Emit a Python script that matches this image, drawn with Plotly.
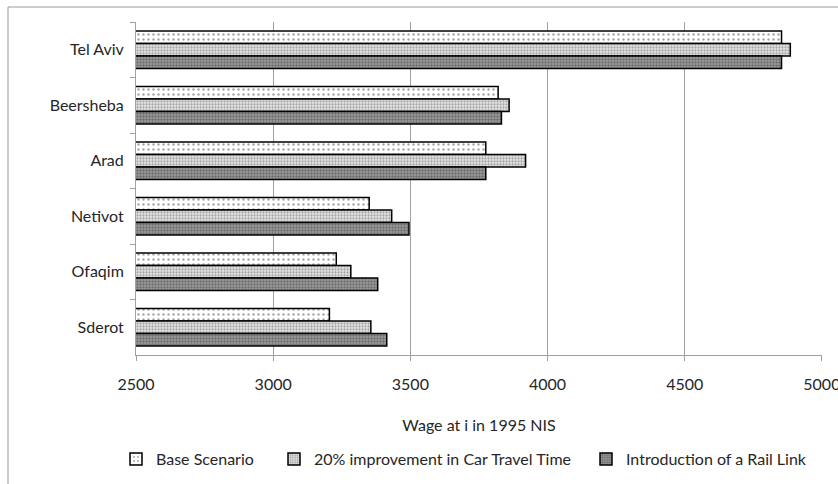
import plotly.graph_objects as go

cities = ["Tel Aviv", "Beersheba", "Arad", "Netivot", "Ofaqim", "Sderot"]
base_scenario = [4853, 3820, 3775, 3350, 3230, 3205]
car_improvement = [4885, 3860, 3920, 3432, 3283, 3356]
rail_link = [4853, 3832, 3775, 3495, 3381, 3414]
series_names = ["Base Scenario", "20% improvement in Car Travel Time", "Introduction of a Rail Link"]
x_ticks = [2500, 3000, 3500, 4000, 4500, 5000]

FONT = "Lato"
TXT = "#262626"
GRID = "#a0a0a0"

patterns = [
    dict(shape=".", bgcolor="#ffffff", fgcolor="#4a4a4a", size=5, solidity=0.18),
    dict(shape=".", bgcolor="#e6e6e6", fgcolor="#666666", size=3, solidity=0.45),
    dict(shape=".", bgcolor="#a0a0a0", fgcolor="#3c3c3c", size=3, solidity=0.5),
]
values = [base_scenario, car_improvement, rail_link]
legends = ["legend", "legend2", "legend3"]

fig = go.Figure()
for name, vals, pat, lg in zip(series_names, values, patterns, legends):
    fig.add_trace(go.Bar(
        y=cities, x=vals, name=name, orientation="h",
        marker=dict(color="#ffffff", pattern=pat, line=dict(color="#000000", width=1.5)),
        legend=lg, showlegend=True,
    ))

W, H = 838, 484
L, R, T, B = 136, 16, 22, 129
pw, ph = W - L - R, H - T - B

def px_x(p):
    return (p - L) / pw

def px_y(p):
    return (H - B - p) / ph

leg_common = dict(orientation="h", yanchor="middle", xanchor="left",
                  xref="container", yref="container",
                  font=dict(family=FONT, size=16, color=TXT),
                  bgcolor="rgba(0,0,0,0)", itemwidth=30)
leg_y = (H - 459) / H

fig.update_layout(
    width=W, height=H, showlegend=True,
    margin=dict(l=L, r=R, t=T, b=B, pad=0, autoexpand=False),
    paper_bgcolor="#ffffff", plot_bgcolor="#ffffff",
    barmode="group", bargap=0.32, bargroupgap=0,
    font=dict(family=FONT, size=16, color=TXT),
    legend=dict(x=116 / W, y=leg_y, **leg_common),
    legend2=dict(x=274 / W, y=leg_y, **leg_common),
    legend3=dict(x=586 / W, y=leg_y, **leg_common),
    xaxis=dict(
        range=[2500, 5000.5], tickvals=x_ticks, ticktext=[str(v) for v in x_ticks],
        showgrid=True, gridcolor=GRID, gridwidth=1,
        showline=True, linecolor=GRID, linewidth=1,
        ticks="outside", ticklen=5, tickcolor=GRID,
        ticklabelstandoff=10, ticklabeloverflow="allow",
        tickfont=dict(family=FONT, size=16, color=TXT),
        title=dict(text="Wage at i in 1995 NIS", font=dict(family=FONT, size=16, color=TXT), standoff=27),
        zeroline=False,
    ),
    yaxis=dict(
        categoryorder="array", categoryarray=cities, autorange="reversed",
        showgrid=False, showline=True, linecolor=GRID, linewidth=1,
        ticks="outside", ticklen=5, tickcolor=GRID, tickson="boundaries",
        ticklabelstandoff=8,
        tickfont=dict(family=FONT, size=16, color=TXT),
    ),
    shapes=[dict(type="rect", xref="paper", yref="paper",
                 x0=px_x(8), x1=px_x(846), y0=px_y(492), y1=px_y(7),
                 line=dict(color="#9a9a9a", width=1), fillcolor="rgba(0,0,0,0)", layer="below")],
)

fig.write_html("out.html", config={"displayModeBar": False},
               post_script="document.body.style.margin='0';document.body.style.overflow='hidden';")
